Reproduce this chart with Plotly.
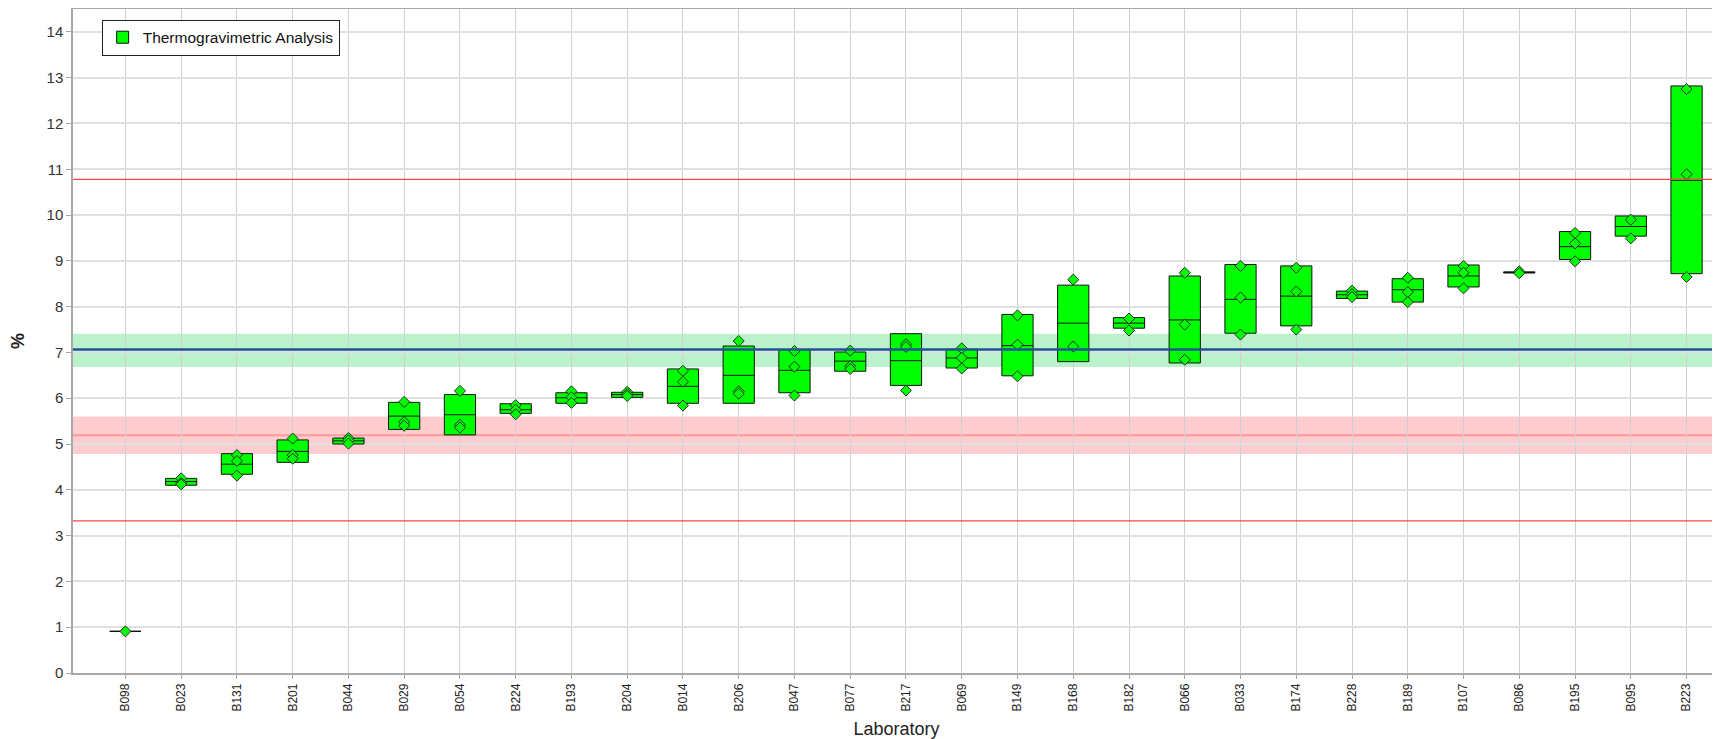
import plotly.graph_objects as go

labs = ["B098", "B023", "B131", "B201", "B044", "B029", "B054", "B224", "B193", "B204",
        "B014", "B206", "B047", "B077", "B217", "B069", "B149", "B168", "B182", "B066",
        "B033", "B174", "B228", "B189", "B107", "B086", "B195", "B095", "B223"]

box_low = [0.91, 4.10, 4.34, 4.60, 5.00, 5.32, 5.20, 5.67, 5.89, 6.02,
           5.89, 5.89, 6.12, 6.59, 6.28, 6.66, 6.49, 6.80, 7.53, 6.77,
           7.42, 7.58, 8.18, 8.10, 8.43, 8.735, 9.03, 9.54, 8.72]
box_high = [0.91, 4.25, 4.79, 5.09, 5.13, 5.91, 6.08, 5.88, 6.12, 6.13,
            6.64, 7.14, 7.06, 7.01, 7.41, 7.07, 7.83, 8.47, 7.76, 8.67,
            8.92, 8.89, 8.34, 8.61, 8.91, 8.76, 9.64, 9.98, 12.82]
box_median = [0.91, 4.18, 4.56, 4.84, 5.07, 5.61, 5.64, 5.75, 6.01, 6.08,
              6.26, 6.50, 6.61, 6.81, 6.82, 6.88, 7.15, 7.64, 7.64, 7.71,
              8.16, 8.23, 8.26, 8.37, 8.67, 8.745, 9.31, 9.75, 10.76]

rep1 = [0.91, 4.25, 4.76, 5.12, 5.13, 5.92, 6.16, 5.85, 6.15, 6.14,
        6.60, 7.25, 7.03, 7.04, 7.18, 7.09, 7.81, 8.59, 7.74, 8.74,
        8.89, 8.85, 8.35, 8.63, 8.89, 8.77, 9.61, 9.90, 12.75]
rep2 = [None, 4.15, 4.63, 4.76, 5.08, 5.48, 5.42, 5.75, 6.02, 6.09,
        6.36, 6.15, 6.69, 6.70, 7.12, 6.88, 7.17, 7.13, 7.48, 7.61,
        8.20, 8.33, 8.27, 8.32, 8.74, 8.73, 9.38, 9.49, 10.89]
rep3 = [None, 4.12, 4.31, 4.68, 5.01, 5.40, 5.36, 5.65, 5.90, 6.05,
        5.84, 6.10, 6.06, 6.64, 6.17, 6.65, 6.48, None, None, 6.84,
        7.39, 7.50, 8.21, 8.10, 8.40, None, 8.99, None, 8.65]

assigned_value = 7.066
assigned_band = [6.68, 7.41]
sample_value = 5.19
sample_band = [4.78, 5.60]
limit_lines = [10.78, 3.32]

fig = go.Figure()

fig.add_trace(go.Box(
    x=labs, q1=box_low, q3=box_high, median=box_median,
    lowerfence=box_low, upperfence=box_high,
    name="Thermogravimetric Analysis",
    fillcolor="#00ff00",
    line=dict(color="#111111", width=1),
    whiskerwidth=0, width=0.56, boxpoints=False,
    hoverinfo="skip", showlegend=True,
))

px, py = [], []
for reps in (rep1, rep2, rep3):
    for lab, v in zip(labs, reps):
        if v is not None:
            px.append(lab)
            py.append(v)

fig.add_trace(go.Scatter(
    x=px, y=py, mode="markers", showlegend=False,
    marker=dict(symbol="diamond", size=8.5, color="#00ff00",
                line=dict(color="#2a2a2a", width=1)),
    hoverinfo="skip",
))

fig.add_shape(type="rect", xref="paper", yref="y", x0=0, x1=1,
              y0=assigned_band[0], y1=assigned_band[1],
              fillcolor="#bbf2cc", line_width=0, layer="below")
fig.add_shape(type="rect", xref="paper", yref="y", x0=0, x1=1,
              y0=sample_band[0], y1=sample_band[1],
              fillcolor="#ffcdd0", line_width=0, layer="below")
fig.add_shape(type="line", xref="paper", yref="y", x0=0, x1=1,
              y0=sample_value, y1=sample_value,
              line=dict(color="#ff9a9a", width=2), layer="below")
fig.add_shape(type="line", xref="paper", yref="y", x0=0, x1=1,
              y0=assigned_value, y1=assigned_value,
              line=dict(color="#1f5596", width=2.5), layer="above")
for v in limit_lines:
    fig.add_shape(type="line", xref="paper", yref="y", x0=0, x1=1,
                  y0=v, y1=v, line=dict(color="#ff4444", width=1.3), layer="above")

fig.update_layout(
    width=1712, height=731,
    margin=dict(l=65, r=0, t=1, b=66, autoexpand=False),
    paper_bgcolor="white", plot_bgcolor="white",
    font=dict(family="Liberation Sans, Arial, sans-serif", color="#222222"),
    showlegend=True,
    legend=dict(x=0.0174, y=0.984, xanchor="left", yanchor="top",
                bgcolor="white", bordercolor="#222222", borderwidth=1,
                font=dict(size=15.5, color="#111111"),
                itemwidth=30, tracegroupgap=0),
)

fig.update_xaxes(
    type="category", categoryorder="array", categoryarray=labs,
    range=[-0.94, 28.6],
    showgrid=True, gridcolor="#d0d0d0", gridwidth=1,
    showline=True, linecolor="#a8a8a8", linewidth=1.5, mirror=True,
    ticks="outside", ticklen=4, tickcolor="#a8a8a8",
    tickangle=-90, tickfont=dict(size=12, color="#222222"),
    title=dict(text="Laboratory", font=dict(size=18, color="#222222"), standoff=14),
    zeroline=False,
)
fig.update_yaxes(
    range=[0, 14.5], dtick=1, tick0=0,
    showgrid=True, gridcolor="#e0e0e0", gridwidth=2,
    showline=True, linecolor="#a8a8a8", linewidth=1.5,
    ticks="outside", ticklen=5, tickcolor="#a8a8a8",
    tickfont=dict(size=15, color="#333333"),
    title=dict(text="<b>%</b>", font=dict(size=18, color="#222222"), standoff=28),
    zeroline=False,
)

fig.write_html("out.html")
